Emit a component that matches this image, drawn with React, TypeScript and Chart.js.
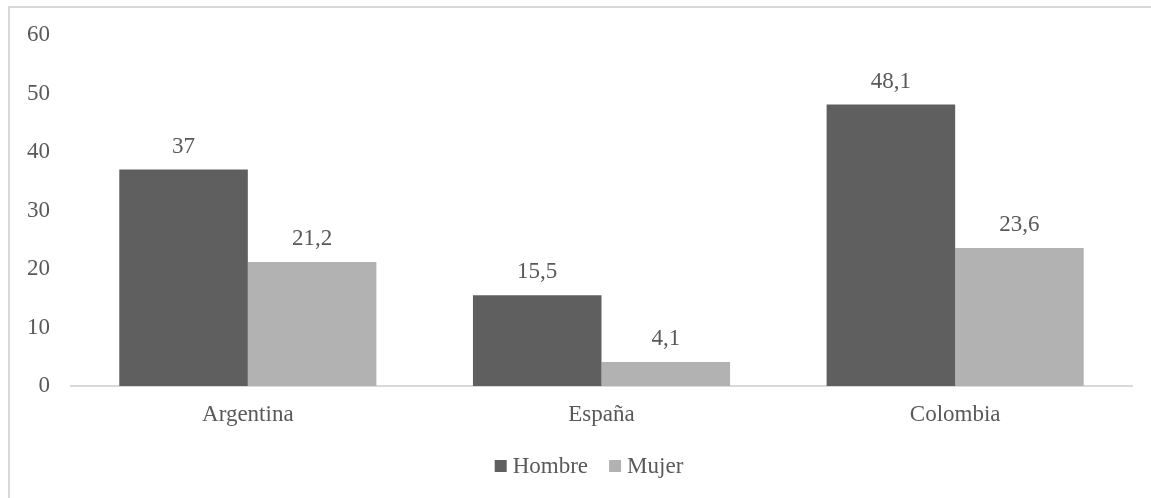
import React, { useEffect, useRef } from "react";
import { Chart, registerables } from "chart.js";

Chart.register(...registerables);

const categories = ["Argentina", "España", "Colombia"];
const seriesNames = ["Hombre", "Mujer"];
const hombreValues = [37, 15.5, 48.1];
const mujerValues = [21.2, 4.1, 23.6];
const yTicks = [0, 10, 20, 30, 40, 50, 60];

const FONT = '"Liberation Serif", "Times New Roman", serif';
const TEXT = "#595959";
const FONT_SIZE = 23;

const fmt = (v: number) => String(v).replace(".", ",");

const dataLabels = {
  id: "dataLabels",
  afterDatasetsDraw(chart: any) {
    const ctx = chart.ctx;
    ctx.save();
    ctx.font = `${FONT_SIZE}px ${FONT}`;
    ctx.fillStyle = TEXT;
    ctx.textAlign = "center";
    ctx.textBaseline = "alphabetic";
    chart.data.datasets.forEach((ds: any, i: number) => {
      const meta = chart.getDatasetMeta(i);
      meta.data.forEach((el: any, j: number) => {
        ctx.fillText(fmt(ds.data[j]), el.x, el.y - 17);
      });
    });
    ctx.restore();
  },
};

const customLegend = {
  id: "customLegend",
  afterDraw(chart: any) {
    const ctx = chart.ctx;
    ctx.save();
    ctx.font = `${FONT_SIZE}px ${FONT}`;
    const box = 12;
    const gap = 6;
    const itemGap = 21;
    const items = chart.data.datasets.map((ds: any) => ({
      label: ds.label,
      color: ds.backgroundColor,
      w: ctx.measureText(ds.label).width,
    }));
    const total =
      items.reduce((s: number, it: any) => s + box + gap + it.w, 0) +
      itemGap * (items.length - 1);
    const cx = (chart.chartArea.left + chart.chartArea.right) / 2 - 12.5;
    let x = cx - total / 2;
    const boxTop = 452;
    const baseline = 465;
    items.forEach((it: any) => {
      ctx.fillStyle = it.color;
      ctx.fillRect(x, boxTop, box, box);
      x += box + gap;
      ctx.fillStyle = TEXT;
      ctx.textAlign = "left";
      ctx.textBaseline = "alphabetic";
      ctx.fillText(it.label, x, baseline);
      x += it.w + itemGap;
    });
    ctx.restore();
  },
};

export default function App() {
  const ref = useRef<HTMLCanvasElement | null>(null);

  useEffect(() => {
    if (!ref.current) return;
    const chart = new Chart(ref.current, {
      type: "bar",
      data: {
        labels: categories,
        datasets: [
          {
            label: seriesNames[0],
            data: hombreValues,
            backgroundColor: "#5f5f5f",
            borderWidth: 0,
          },
          {
            label: seriesNames[1],
            data: mujerValues,
            backgroundColor: "#b2b2b2",
            borderWidth: 0,
          },
        ],
      },
      options: {
        responsive: false,
        animation: false,
        devicePixelRatio: 1,
        datasets: {
          bar: { barPercentage: 1, categoryPercentage: 0.727 },
        },
        layout: { padding: { left: 0, right: 19, top: 27, bottom: 0 } },
        plugins: {
          legend: { display: false },
          tooltip: { enabled: false },
          title: { display: false },
        },
        scales: {
          x: {
            grid: { display: false, drawTicks: false },
            border: { display: true, color: "#d9d9d9", width: 2 },
            ticks: {
              color: TEXT,
              font: { family: FONT, size: FONT_SIZE },
              padding: 15,
            },
            afterFit: (scale: any) => {
              scale.height = 112;
              scale.paddingLeft = 0;
              scale.paddingRight = 0;
            },
          },
          y: {
            min: 0,
            max: 60,
            afterBuildTicks: (scale: any) => {
              scale.ticks = yTicks.map((v) => ({ value: v }));
            },
            grid: { display: false, drawTicks: false },
            border: { display: false },
            ticks: {
              color: TEXT,
              font: { family: FONT, size: FONT_SIZE },
              padding: 21,
            },
            afterFit: (scale: any) => {
              scale.width = 61;
              scale.paddingTop = 0;
              scale.paddingBottom = 0;
            },
          },
        },
      },
      plugins: [dataLabels, customLegend],
    });
    return () => chart.destroy();
  }, []);

  return (
    <div
      style={{
        position: "absolute",
        left: 8,
        top: 6,
        width: 1143,
        height: 492,
        borderLeft: "2px solid #d9d9d9",
        borderTop: "2px solid #d9d9d9",
        boxSizing: "border-box",
        background: "#fff",
        overflow: "hidden",
      }}
    >
      <canvas ref={ref} width={1141} height={490} style={{ display: "block" }} />
    </div>
  );
}
